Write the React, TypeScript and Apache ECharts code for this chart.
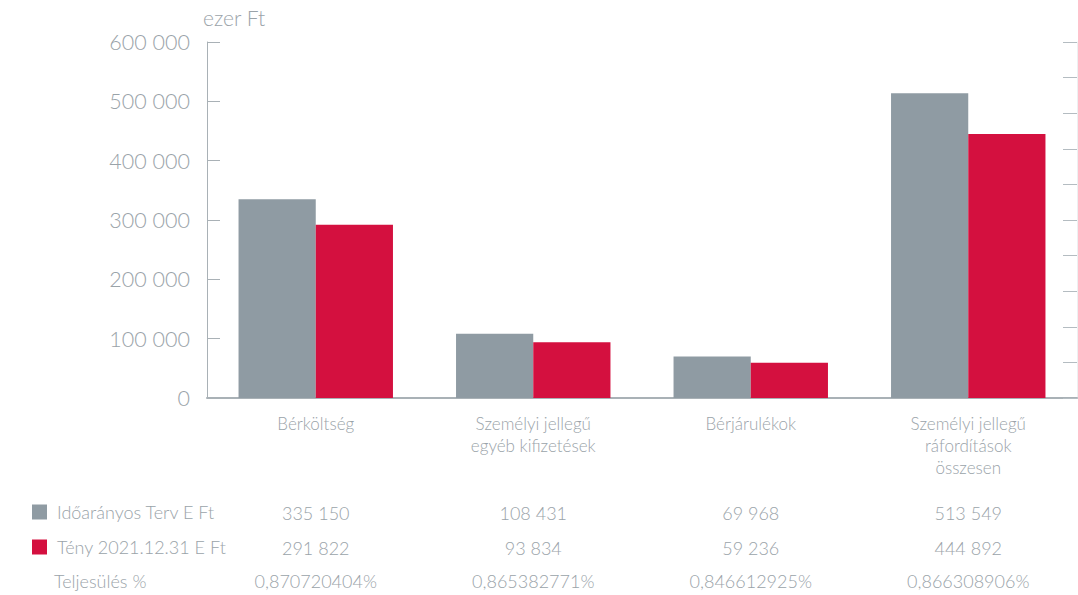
import React, { useEffect, useRef } from "react";
import * as echarts from "echarts";

const categories = [
  "Bérköltség",
  "Személyi jellegű\negyéb kifizetések",
  "Bérjárulékok",
  "Személyi jellegű\nráfordítások\nösszesen",
];
const planValues = [335150, 108431, 69968, 513549];
const actualValues = [291822, 93834, 59236, 444892];
const planLabels = ["335 150", "108 431", "69 968", "513 549"];
const actualLabels = ["291 822", "93 834", "59 236", "444 892"];
const ratioLabels = ["0,870720404%", "0,865382771%", "0,846612925%", "0,866308906%"];
const seriesNames = ["Időarányos Terv E Ft", "Tény 2021.12.31 E Ft"];
const ratioTitle = "Teljesülés %";
const unitLabel = "ezer Ft";

const GREY = "#8f9ba3";
const RED = "#d4103f";
const TEXT = "#9aa3a9";
const AXIS = "#a9b1b6";
const FONT = "Lato";

export default function App() {
  const ref = useRef<HTMLDivElement>(null);
  useEffect(() => {
    if (!ref.current) return;
    const chart = echarts.init(ref.current, undefined, { renderer: "svg" });
    const fmt = (v: number) =>
      String(v).replace(/\B(?=(\d{3})+(?!\d))/g, " ");
    chart.setOption({
      animation: false,
      textStyle: { fontFamily: FONT, fontWeight: 300 },
      grid: { left: 207, right: 1, top: 42, bottom: 197 },
      legend: {
        orient: "vertical",
        left: 27,
        top: 498,
        itemWidth: 15,
        itemHeight: 15,
        itemGap: 17,
        icon: "rect",
        selectedMode: false,
        textStyle: { color: TEXT, fontSize: 18, fontFamily: FONT, fontWeight: 300, padding: [0, 0, 0, 5] },
        data: seriesNames,
      },
      xAxis: {
        type: "category",
        data: categories,
        axisLine: { lineStyle: { color: AXIS, width: 2 } },
        axisTick: { inside: true, length: 10, lineStyle: { color: AXIS } },
        axisLabel: {
          color: TEXT,
          fontSize: 17,
          fontFamily: FONT,
          fontWeight: 300,
          lineHeight: 22,
          margin: 14,
        },
      },
      yAxis: [
        {
          type: "value",
          min: 0,
          max: 600000,
          interval: 100000,
          name: unitLabel,
          nameGap: 14,
          nameTextStyle: { color: TEXT, fontSize: 21, fontFamily: FONT, fontWeight: 300, align: "left", padding: [0, 0, 0, -4] },
          axisLine: { show: true, lineStyle: { color: AXIS } },
          axisTick: { show: true, inside: true, length: 13, lineStyle: { color: AXIS } },
          splitLine: { show: false },
          axisLabel: {
            color: TEXT,
            fontSize: 21.5,
            fontFamily: FONT,
            fontWeight: 300,
            margin: 17,
            formatter: (v: number) => fmt(v),
          },
        },
        {
          type: "value",
          position: "right",
          min: 0,
          max: 10,
          interval: 1,
          axisLine: { show: true, lineStyle: { color: "#eef0f1" } },
          axisTick: { show: true, inside: true, length: 14, lineStyle: { color: "#b4bcc1" } },
          splitLine: { show: false },
          axisLabel: { show: false },
        },
      ],
      series: [
        {
          name: seriesNames[0],
          type: "bar",
          data: planValues,
          itemStyle: { color: GREY },
          barGap: "0%",
          barCategoryGap: "29%",
        },
        {
          name: seriesNames[1],
          type: "bar",
          data: actualValues,
          itemStyle: { color: RED },
          barGap: "0%",
          barCategoryGap: "29%",
        },
      ],
    });
    const graphics: any[] = [];
    const rows = [planLabels, actualLabels, ratioLabels];
    const rowY = [513, 548, 581];
    categories.forEach((c, i) => {
      const x = chart.convertToPixel({ xAxisIndex: 0 }, i) as number;
      rows.forEach((r, j) => {
        graphics.push({
          type: "text",
          x,
          y: rowY[j],
          style: {
            text: r[i],
            fill: TEXT,
            fontSize: 18,
            fontFamily: FONT,
            fontWeight: 300,
            align: "center",
            verticalAlign: "middle",
          },
        });
      });
    });
    graphics.push({
      type: "text",
      x: 54,
      y: rowY[2],
      style: {
        text: ratioTitle,
        fill: TEXT,
        fontSize: 18,
        fontFamily: FONT,
        fontWeight: 300,
        align: "left",
        verticalAlign: "middle",
      },
    });
    chart.setOption({ graphic: graphics });
    return () => chart.dispose();
  }, []);
  return <div ref={ref} style={{ width: 1078, height: 595, position: "absolute", left: 0, top: 0 }} />;
}
